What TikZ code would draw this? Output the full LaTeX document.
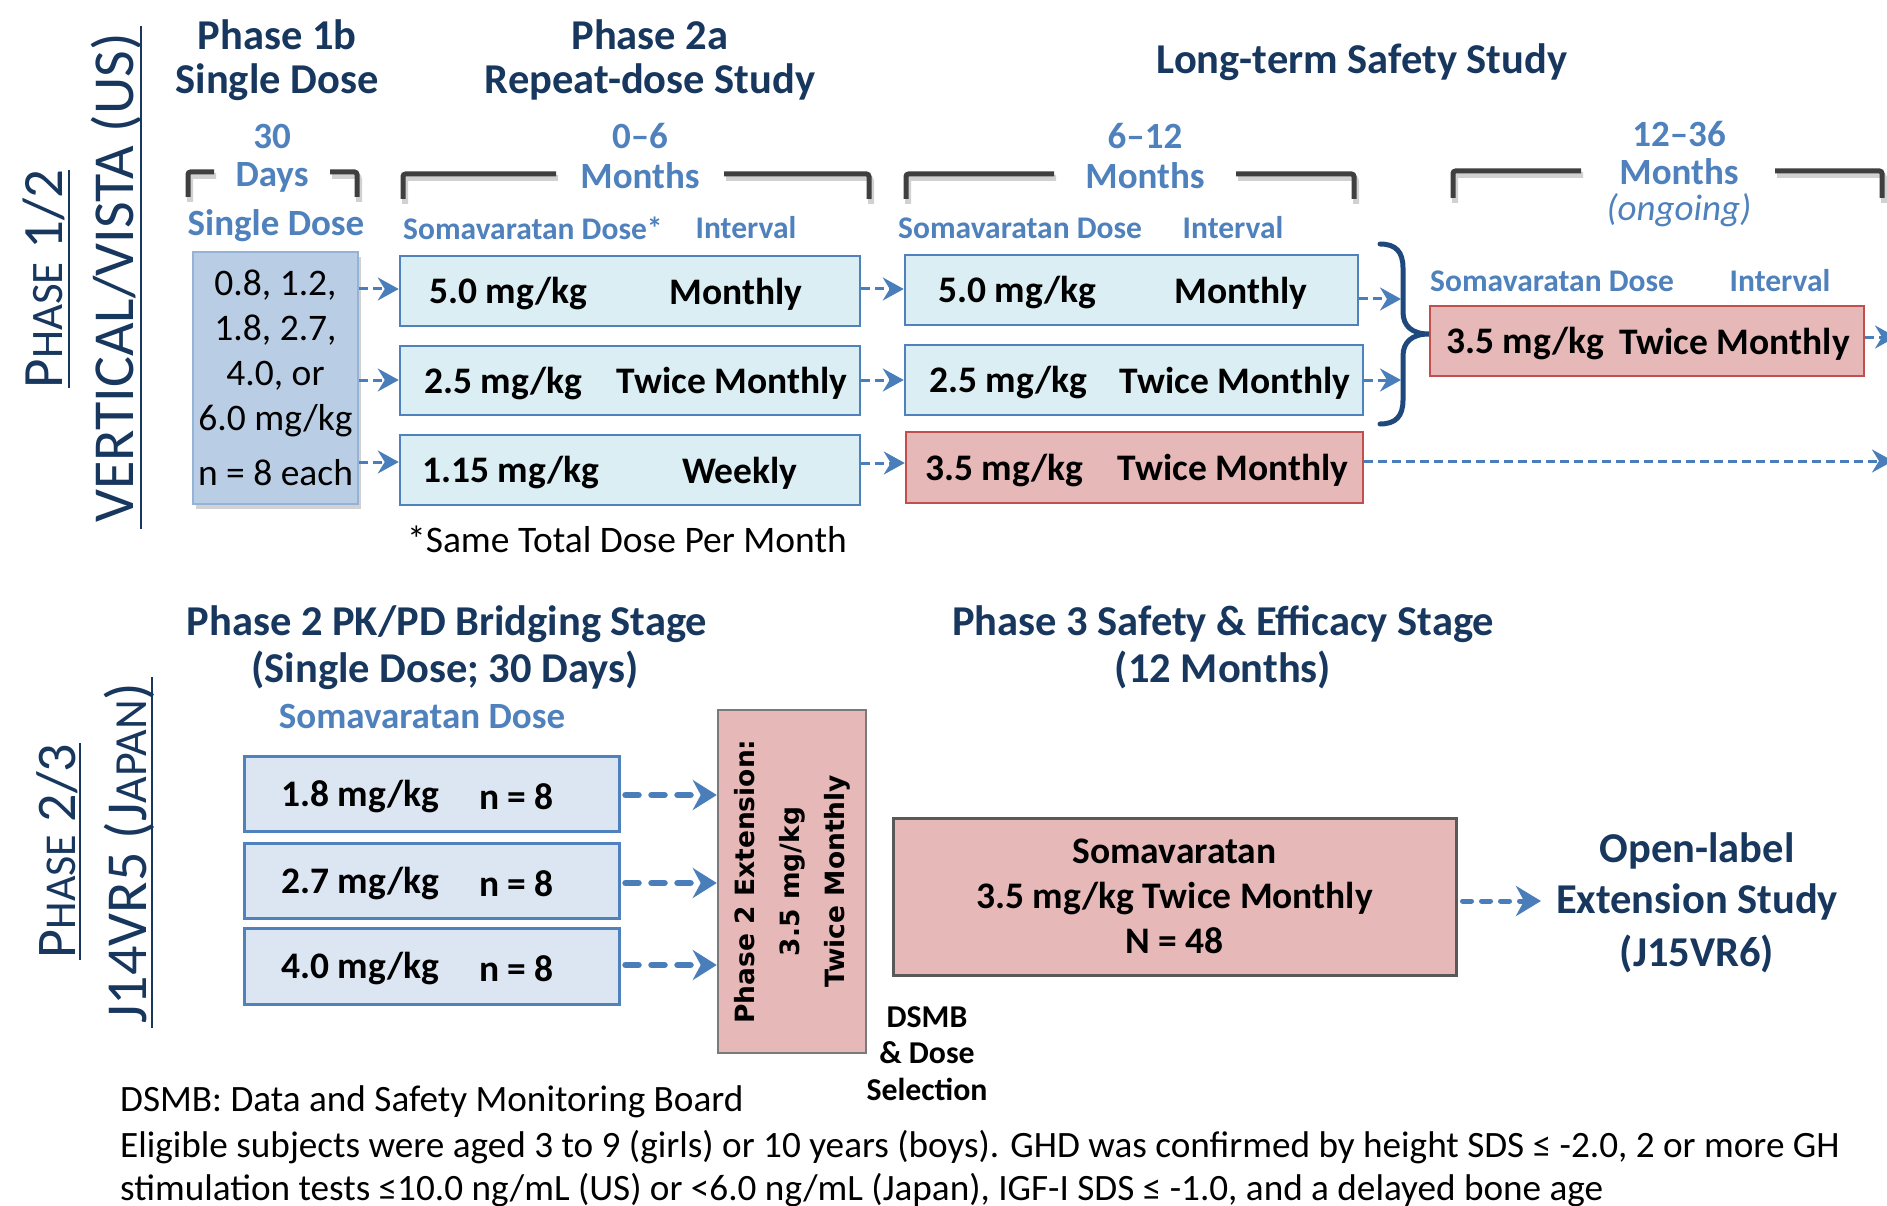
\documentclass[tikz,border=0pt]{standalone}
\usepackage{fontspec}
\setmainfont{Carlito}
\newfontfamily\dvs{DejaVu Sans}
\usetikzlibrary{arrows.meta,shadows,calc}
\definecolor{navy}{HTML}{17375E}
\definecolor{hblue}{HTML}{4F81BD}
\definecolor{bblue}{HTML}{4F81BD}
\definecolor{lblue}{HTML}{DBEEF4}
\definecolor{jblue}{HTML}{DCE6F2}
\definecolor{sblue}{HTML}{B9CDE5}
\definecolor{sbord}{HTML}{95B3D7}
\definecolor{rfill}{HTML}{E6B9B8}
\definecolor{rbord}{HTML}{C0504D}
\definecolor{gbord}{HTML}{595959}
\definecolor{brk}{HTML}{3F3F3F}
\definecolor{bracec}{HTML}{1F497D}
\definecolor{arrc}{HTML}{4A7EBB}
\newcommand{\fsz}[2]{\fontsize{#1pt}{#2pt}\selectfont}
\begin{document}
\begin{tikzpicture}[x=1pt,y=-1pt,
  title/.style={font=\bfseries\fsz{42.5}{51}, text=navy, inner sep=0pt},
  blab/.style={font=\bfseries\fsz{37}{42}, text=hblue, inner sep=0pt},
  slab/.style={font=\bfseries\fsz{31.5}{36}, text=hblue, inner sep=0pt},
  bt/.style={font=\bfseries\fsz{37.5}{45}, text=black, inner sep=0pt, yshift=-3pt},
  rt/.style={font=\fsz{37.5}{45}, text=black, inner sep=0pt},
  foot/.style={font=\fsz{37.2}{44}, text=black, inner sep=0pt, anchor=west},
  rot/.style={text=navy, inner sep=0pt, rotate=90, anchor=base},
  uline/.style={draw=navy, line width=2.5pt},
  rowbox/.style={draw=bblue, fill=lblue, line width=2.5pt, inner sep=0pt},
  redbox/.style={draw=rbord, fill=rfill, line width=2.5pt, inner sep=0pt},
  jbox/.style={draw=bblue, fill=jblue, line width=3pt, inner sep=0pt},
  gbox/.style={draw=gbord, fill=rfill, line width=3pt, inner sep=0pt},
  brkline/.style={draw=brk, line width=5pt, rounded corners=2.5pt},
  brkshadow/.style={draw=black, opacity=0.18, line width=6pt, rounded corners=3pt},
  arrT/.style={draw=arrc, line width=3pt, dash pattern=on 9pt off 5pt,
     -{Stealth[length=21pt,width=23pt,inset=7pt]}},
  arrJ/.style={draw=arrc, line width=6.5pt, line cap=round, dash pattern=on 13pt off 13pt,
     -{Stealth[length=24pt,width=30pt,inset=8pt]}},
  arrP/.style={draw=arrc, line width=5pt, line cap=round, dash pattern=on 9pt off 10pt,
     -{Stealth[length=25pt,width=30pt,inset=8pt]}},
]
\fill[white] (0,0) rectangle (1887,1206);
\useasboundingbox (0,0) rectangle (1887,1206);

% ---------- rotated side labels ----------
\node[rot] (ph12) at (62,279) {\fsz{57}{57}P\fsz{45}{45}HASE\fsz{57}{57} 1/2};
\draw[uline] (69,170) -- (69,388);
\node[rot] (vista) at (133,278) {\fsz{58}{58}VERTICAL/VISTA (US)};
\draw[uline] (141,26) -- (141,529);
\node[rot] (ph23) at (75,851) {\fsz{56}{56}P\fsz{44}{44}HASE\fsz{56}{56} 2/3};
\draw[uline] (80,743) -- (80,960);
\node[rot] (japan) at (146,853) {\fsz{58}{58}J14VR5 (J\fsz{46}{46}APAN\fsz{58}{58})};
\draw[uline] (152,677) -- (152,1028);

% ---------- top titles ----------
\node[title] (t1a) at (277,35) {Phase 1b};
\node[title] (t1b) at (277,82) {Single Dose};
\node[title] (t2a) at (650,35) {Phase 2a};
\node[title] (t2b) at (650,82) {Repeat-dose Study};
\node[title] (t3) at (1362,62) {Long-term Safety Study};

% ---------- brackets ----------
\foreach \xa/\xb/\xc/\xd/\ya/\yb in {188/214/330/357/172/197, 403/556/724/869/174/199, 906/1054/1236/1354/174/199, 1453/1581/1775/1882/171/198}{
  \draw[brkshadow] (\xa+2,\yb+5) -- (\xa+2,\ya+4) -- (\xb+2,\ya+4);
  \draw[brkshadow] (\xc+2,\ya+4) -- (\xd+2,\ya+4) -- (\xd+2,\yb+5);
  \draw[brkline] (\xa,\yb) -- (\xa,\ya) -- (\xb,\ya);
  \draw[brkline] (\xc,\ya) -- (\xd,\ya) -- (\xd,\yb);
}

% ---------- period labels ----------
\node[blab] (d30) at (272,136) {30};
\node[blab] (days) at (272,177) {Days};
\node[blab] (m6a) at (640,136) {0–6};
\node[blab] (m6b) at (640,176) {Months};
\node[blab] (m12a) at (1145,136) {6–12};
\node[blab] (m12b) at (1145,176) {Months};
\node[blab] (m36a) at (1679,134) {12–36};
\node[blab] (m36b) at (1679,172) {Months};
\node[blab, font=\mdseries\itshape\fsz{37}{42}] (ongo) at (1679,210) {(ongoing)};
\node[blab] (sdl) at (276,226) {Single Dose};

\node[slab, anchor=west] (h1d) at (403,228) {Somavaratan Dose*};
\node[slab] (h1i) at (746,228) {Interval};
\node[slab, anchor=west] (h2d) at (898,228) {Somavaratan Dose};
\node[slab] (h2i) at (1233,228) {Interval};
\node[slab, anchor=west] (h3d) at (1430,281) {Somavaratan Dose};
\node[slab] (h3i) at (1780,281) {Interval};

% ---------- single dose box ----------
\node[draw=sbord, fill=sblue, line width=2pt, minimum width=165pt, minimum height=252pt,
      inner sep=0pt, align=center, font=\fsz{37.5}{45},
      drop shadow={shadow xshift=3pt, shadow yshift=-5pt, opacity=0.35}]
  (single) at (275.5,378) {0.8, 1.2,\\1.8, 2.7,\\4.0, or\\6.0 mg/kg\\[10pt]n = 8 each};

% ---------- column A ----------
\node[rowbox, minimum width=460pt, minimum height=70pt] (A1) at (630,291) {};
\node[rowbox, minimum width=460pt, minimum height=69pt] (A2) at (630,380.5) {};
\node[rowbox, minimum width=460pt, minimum height=70pt] (A3) at (630,470) {};
\node[bt, anchor=west] (A1d) at (429,291) {5.0 mg/kg};
\node[bt] (A1i) at (736,291) {Monthly};
\node[bt, anchor=west] (A2d) at (424,380.5) {2.5 mg/kg};
\node[bt] (A2i) at (732,380.5) {Twice Monthly};
\node[bt, anchor=west] (A3d) at (422,470) {1.15 mg/kg};
\node[bt] (A3i) at (740,470) {Weekly};
\node[rt] (same) at (627,539) {*Same Total Dose Per Month};

% ---------- column B ----------
\node[rowbox, minimum width=453pt, minimum height=70pt] (B1) at (1131.5,290) {};
\node[rowbox, minimum width=458pt, minimum height=70pt] (B2) at (1134,380) {};
\node[redbox, minimum width=457pt, minimum height=71pt] (B3) at (1134.5,467.5) {};
\node[bt, anchor=west] (B1d) at (938,290) {5.0 mg/kg};
\node[bt] (B1i) at (1241,290) {Monthly};
\node[bt, anchor=west] (B2d) at (929,380) {2.5 mg/kg};
\node[bt] (B2i) at (1235,380) {Twice Monthly};
\node[bt, anchor=west] (B3d) at (925,467.5) {3.5 mg/kg};
\node[bt] (B3i) at (1233,467.5) {Twice Monthly};

% ---------- long-term box ----------
\node[redbox, minimum width=434pt, minimum height=70pt] (LT) at (1647,341) {};
\node[bt, anchor=west] (LTd) at (1446,341) {3.5 mg/kg};
\node[bt, anchor=east] (LTi) at (1850,341) {Twice Monthly};

% ---------- brace ----------
\coordinate (brTop) at (1380,244);
\coordinate (brTip) at (1429,334);
\coordinate (brBot) at (1380,424);
\draw[draw=bracec, line width=5pt, line cap=round]
  (brTop) .. controls (1396,244) and (1403,252) .. (1403,268) -- (1403,312)
  .. controls (1403,326) and (1412,334) .. (brTip)
  .. controls (1412,334) and (1403,342) .. (1403,356) -- (1403,400)
  .. controls (1403,416) and (1396,424) .. (brBot);

% ---------- top arrows ----------
\draw[arrT] (single.east |- 0,289) -- (A1.west |- 0,289);
\draw[arrT] (single.east |- 0,380) -- (A2.west |- 0,380);
\draw[arrT] (single.east |- 0,462) -- (A3.west |- 0,462);
\draw[arrT] (A1.east |- 0,289) -- (B1.west |- 0,289);
\draw[arrT] (A2.east |- 0,380) -- (B2.west |- 0,380);
\draw[arrT] (A3.east |- 0,463) -- (B3.west |- 0,463);
\coordinate (bin1) at (1401,299);
\coordinate (bin2) at (1401,380);
\draw[arrT] (B1.east |- bin1) -- (bin1);
\draw[arrT] (B2.east |- bin2) -- (bin2);
\coordinate (ltout) at (1896,337);
\draw[arrT] (LT.east |- ltout) -- (ltout);
\coordinate (b3out) at (1893,461);
\draw[arrT] (B3.east |- b3out) -- (b3out);

% ---------- bottom titles ----------
\node[title] (p2a) at (447,624) {Phase 2 PK/PD Bridging Stage};
\node[title] (p2b) at (445,670) {(Single Dose; 30 Days)};
\node[blab] (jsd) at (422,716) {Somavaratan Dose};
\node[title] (p3a) at (1223,624) {Phase 3 Safety \& Efficacy Stage};
\node[title] (p3b) at (1223,670) {(12 Months)};

% ---------- japan boxes ----------
\node[jbox, minimum width=375pt, minimum height=75pt] (J1) at (431.5,793.5) {};
\node[jbox, minimum width=375pt, minimum height=75pt] (J2) at (431.5,880.5) {};
\node[jbox, minimum width=375pt, minimum height=76pt] (J3) at (431.5,966) {};
\node[bt, anchor=west] (J1d) at (281,793.5) {1.8 mg/kg};
\node[bt, anchor=west] (J1n) at (479,793.5) {n = 8};
\node[bt, anchor=west] (J2d) at (281,880.5) {2.7 mg/kg};
\node[bt, anchor=west] (J2n) at (479,880.5) {n = 8};
\node[bt, anchor=west] (J3d) at (281,966) {4.0 mg/kg};
\node[bt, anchor=west] (J3n) at (479,966) {n = 8};

% ---------- extension box ----------
\node[gbox, draw=gbord!80, line width=2.5pt, minimum width=148pt, minimum height=343pt] (ext) at (792,881.5) {};
\node[rotate=90, align=center, inner sep=0pt, font=\dvs\bfseries\fsz{26.5}{45}] (extt) at (ext.center) {Phase 2 Extension:\\3.5 mg/kg\\Twice Monthly};

\draw[arrJ] ([xshift=5pt]J1.east |- 0,795) -- (ext.west |- 0,795);
\draw[arrJ] ([xshift=5pt]J2.east |- 0,883) -- (ext.west |- 0,883);
\draw[arrJ] ([xshift=5pt]J3.east |- 0,965) -- (ext.west |- 0,965);

% ---------- phase 3 box ----------
\node[gbox, minimum width=563pt, minimum height=157pt, align=center, font=\bfseries\fsz{37.5}{45}]
  (P3) at (1174.5,896.5) {Somavaratan\\3.5 mg/kg Twice Monthly\\N = 48};
\coordinate (olin) at (1541,901);
\draw[arrP] ([xshift=5pt]P3.east |- olin) -- (olin);
\node[title] (ol1) at (1697,851) {Open-label};
\node[title] (ol2) at (1697,902) {Extension Study};
\node[title] (ol3) at (1697,954) {(J15VR6)};

% ---------- DSMB ----------
\node[inner sep=0pt, font=\bfseries\fsz{31.8}{36}] (ds1) at (927,1017) {DSMB};
\node[inner sep=0pt, font=\bfseries\fsz{31.8}{36}] (ds2) at (927,1053) {\& Dose};
\node[inner sep=0pt, font=\bfseries\fsz{31.8}{36}] (ds3) at (927,1089) {Selection};

% ---------- footnotes ----------
\node[foot] (f1) at (120,1102) {DSMB: Data and Safety Monitoring Board};
\node[foot] (f2) at (120,1147) {Eligible subjects were aged 3 to 9 (girls) or 10 years (boys). GHD was confirmed by height SDS ≤ -2.0, 2 or more GH};
\node[foot] (f3) at (120,1190) {stimulation tests ≤10.0 ng/mL (US) or <6.0 ng/mL (Japan), IGF-I SDS ≤ -1.0, and a delayed bone age};
\end{tikzpicture}
\end{document}
